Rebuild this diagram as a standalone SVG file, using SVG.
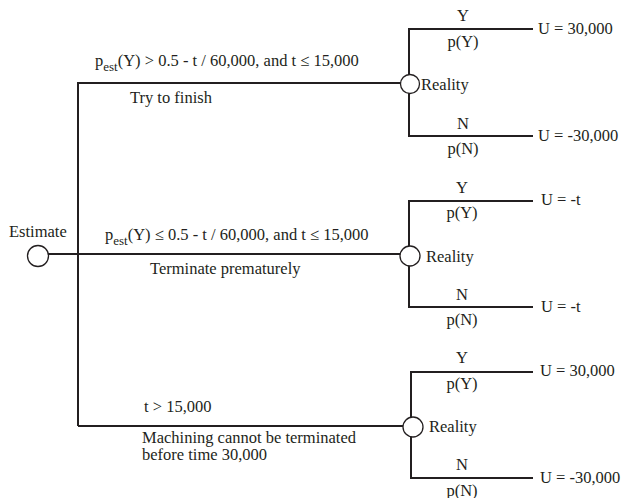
<svg xmlns="http://www.w3.org/2000/svg" width="621" height="498" viewBox="0 0 621 498">
<style>
text{font-family:"Liberation Serif","Times New Roman",serif;font-size:16.5px;fill:#231f20}
.m{text-anchor:middle}
.sub{font-size:13px}
.ln{stroke:#231f20;stroke-width:2;fill:none}
.nd{stroke:#231f20;stroke-width:1.3;fill:#fff}
</style>
<rect width="621" height="498" fill="#fff"/>
<g id="connectors">
<path class="ln" d="M48,254 H401"/>
<path class="ln" d="M78,426 V83 H401"/>
<path class="ln" d="M78,426 H403"/>
<path class="ln" d="M409,75 V29 H533 M409,93 V136 H533"/>
<path class="ln" d="M409,247 V201 H533 M409,265 V307 H533"/>
<path class="ln" d="M411,418 V372 H533 M411,436 V478 H533"/>
</g>
<g id="estimate">
<circle class="nd" cx="38" cy="256" r="10.5"/>
<text x="9" y="237">Estimate</text>
</g>
<g id="reality1">
<circle class="nd" cx="410" cy="84" r="9.5"/>
<text x="421" y="90">Reality</text>
</g>
<g id="reality2">
<circle class="nd" cx="410" cy="256" r="10"/>
<text x="426" y="262">Reality</text>
</g>
<g id="reality3">
<circle class="nd" cx="413" cy="427" r="10"/>
<text x="429" y="432">Reality</text>
</g>
<g id="labels">
<text x="95" y="66">p<tspan class="sub" dy="5">est</tspan><tspan dy="-5">(Y) &gt; 0.5 - t / 60,000, and t ≤ 15,000</tspan></text>
<text x="130" y="103">Try to finish</text>
<text x="105" y="240">p<tspan class="sub" dy="5">est</tspan><tspan dy="-5">(Y) ≤ 0.5 - t / 60,000, and t ≤ 15,000</tspan></text>
<text x="150" y="274">Terminate prematurely</text>
<text x="144" y="412">t &gt; 15,000</text>
<text x="142" y="443">Machining cannot be terminated</text>
<text x="142" y="460">before time 30,000</text>
</g>
<g id="outcomes1">
<text class="m" x="463" y="21">Y</text>
<text class="m" x="463" y="47">p(Y)</text>
<text x="538" y="34">U = 30,000</text>
<text class="m" x="463" y="129">N</text>
<text class="m" x="463" y="154">p(N)</text>
<text x="538" y="141">U = -30,000</text>
</g>
<g id="outcomes2">
<text class="m" x="462" y="193">Y</text>
<text class="m" x="462" y="218">p(Y)</text>
<text x="541" y="205">U = -t</text>
<text class="m" x="462" y="300">N</text>
<text class="m" x="462" y="325">p(N)</text>
<text x="541" y="312">U = -t</text>
</g>
<g id="outcomes3">
<text class="m" x="462" y="363">Y</text>
<text class="m" x="462" y="389">p(Y)</text>
<text x="540" y="376">U = 30,000</text>
<text class="m" x="462" y="470">N</text>
<text class="m" x="462" y="496">p(N)</text>
<text x="540" y="483">U = -30,000</text>
</g>
</svg>
